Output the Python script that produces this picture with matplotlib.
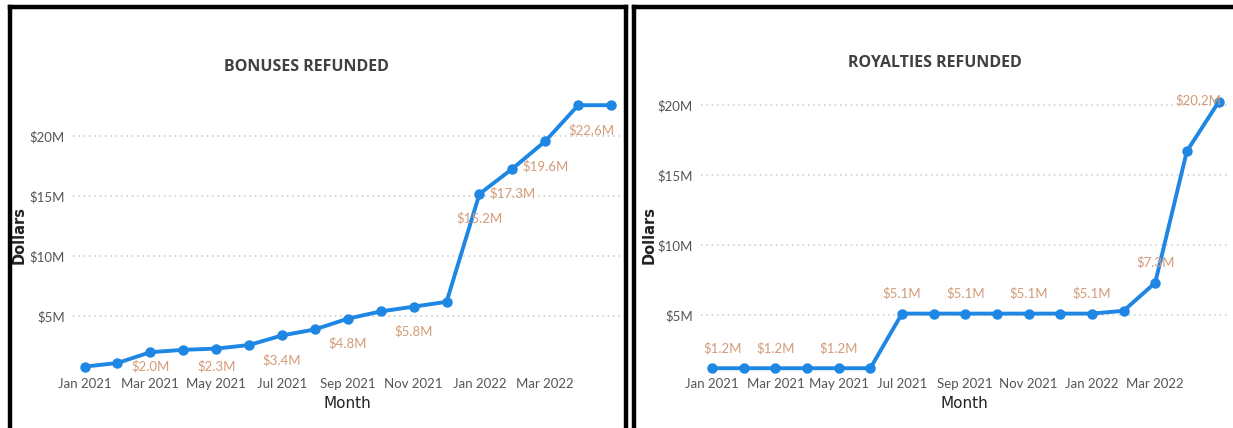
import numpy as np
import matplotlib.pyplot as plt
from matplotlib.lines import Line2D

## Donnees
months = ["Jan 2021", "Feb 2021", "Mar 2021", "Apr 2021", "May 2021", "Jun 2021",
          "Jul 2021", "Aug 2021", "Sep 2021", "Oct 2021", "Nov 2021", "Dec 2021",
          "Jan 2022", "Feb 2022", "Mar 2022", "Apr 2022", "May 2022"]
tick_labels = ["Jan 2021", "Mar 2021", "May 2021", "Jul 2021", "Sep 2021",
               "Nov 2021", "Jan 2022", "Mar 2022"]

bonuses = [0.8, 1.1, 2.0, 2.2, 2.3, 2.6, 3.4, 3.9, 4.8, 5.4, 5.8, 6.2,
           15.2, 17.3, 19.6, 22.6, 22.6]
bonus_labelled = [2, 4, 6, 8, 10, 12, 13, 14, 16]

royalties = [1.2, 1.2, 1.2, 1.2, 1.2, 1.2, 5.1, 5.1, 5.1, 5.1, 5.1, 5.1,
             5.1, 5.3, 7.3, 16.7, 20.2]
royal_labelled = [0, 2, 4, 6, 8, 10, 12, 14, 16]

## Style
plt.rcParams['font.family'] = ['Lato', 'DejaVu Sans']
BLUE = "#1E86E3"
LBL = "#D39B78"
TICK = "#555555"
W, H = 1233, 428

fig = plt.figure(figsize=(W / 100, H / 100), dpi=100)
fig.patch.set_facecolor("white")


def box(x0, x1, y0, y1):
    return [x0 / W, 1 - y1 / H, (x1 - x0) / W, (y1 - y0) / H]


def draw(ax, vals, ylim, labelled, below, title, tx, ty):
    x = np.arange(len(vals))
    ax.plot(x, vals, color=BLUE, lw=2.8, marker="o", ms=6.5, clip_on=False, zorder=3)
    ax.set_xlim(-0.35, len(vals) - 1 + 0.3)
    ax.set_ylim(*ylim)
    ax.set_yticks([5, 10, 15, 20])
    ax.set_yticklabels(["$5M", "$10M", "$15M", "$20M"])
    ax.set_xticks(np.arange(0, 16, 2))
    ax.set_xticklabels(tick_labels)
    ax.tick_params(length=0, labelsize=9.5, colors=TICK, pad=4)
    ax.tick_params(axis="y", pad=6)
    for s in ax.spines.values():
        s.set_visible(False)
    ax.grid(axis="y", color="#C8C8C8", ls=(0, (1, 2.5)), lw=1.1)
    ax.set_axisbelow(True)
    ax.set_xlabel("Month", fontsize=11, color="#222222", labelpad=5,
                  family=["DejaVu Sans"])
    ax.set_ylabel("Dollars", fontsize=10.5, color="#222222", fontweight="bold",
                  family=["DejaVu Sans"])
    ax.yaxis.set_label_coords(-0.085, 0.5)
    fig.text(tx / W, 1 - ty / H, title, ha="center", va="center",
             fontsize=11.5, fontweight="bold", color="#404040", family="Open Sans")
    for i in labelled:
        v = vals[i]
        if below:
            y = max(v - 2.05, ylim[0] + 0.5)
        else:
            y = min(v + 1.45, ylim[1] - 0.15)
        ha = "center"
        dx = 0
        if i == len(vals) - 1:
            ha, dx = "right", 0.1
        if i == 0 and not below:
            dx = 0.35
        ax.text(i + dx, y, "$%.1fM" % v, ha=ha, va="center", fontsize=9.5,
                color=LBL, zorder=4)


ax1 = fig.add_axes(box(73, 621, 98, 372))
draw(ax1, bonuses, (0.35, 23.2), bonus_labelled, True, "BONUSES REFUNDED", 306, 67)

ax2 = fig.add_axes(box(701, 1228, 98, 372))
draw(ax2, royalties, (0.93, 20.5), royal_labelled, False, "ROYALTIES REFUNDED", 935, 63)

## Cadres
lw = 3.2
for xs, ys in [([9.5 / W, 9.5 / W], [0, 1 - 6.5 / H]),
               ([9.5 / W, 625.5 / W], [1 - 6.5 / H, 1 - 6.5 / H]),
               ([625.5 / W, 625.5 / W], [0, 1 - 6.5 / H]),
               ([634 / W, 634 / W], [0, 1 - 6.5 / H]),
               ([634 / W, 1], [1 - 6.5 / H, 1 - 6.5 / H])]:
    fig.add_artist(Line2D(xs, ys, color="black", lw=lw, solid_capstyle="projecting"))

fig.savefig("out.png", dpi=100)
